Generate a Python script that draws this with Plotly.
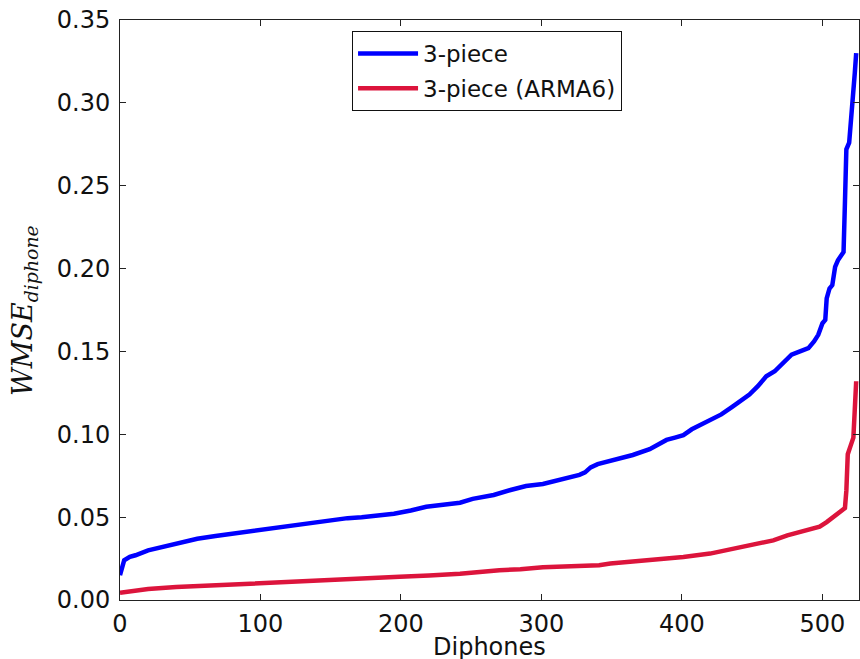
import plotly.graph_objects as go

# Blue series: "3-piece"
blue_x = [0, 1, 3, 7, 11, 20, 30, 44, 55, 68, 80, 91, 103, 115, 127, 139, 150, 162, 172,
          185, 195, 207, 218, 230, 242, 251, 258, 266, 278, 289, 301, 313, 320, 327, 331,
          335, 340, 349, 356, 365, 377, 389, 395, 401, 407, 413, 420, 428, 436, 442, 448,
          454, 460, 466, 472, 478, 484, 490, 494, 497, 500, 502, 503, 505, 507, 509, 511,
          513, 515, 516, 517, 519, 520, 521, 522, 523, 524]
blue_y = [0.015, 0.019, 0.024, 0.026, 0.027, 0.030, 0.032, 0.035, 0.037, 0.0386, 0.040,
          0.041, 0.0425, 0.0437, 0.045, 0.0464, 0.048, 0.0494, 0.0500, 0.051, 0.052, 0.054,
          0.0563, 0.0575, 0.0587, 0.061, 0.062, 0.0634, 0.0664, 0.0688, 0.0700, 0.0725,
          0.074, 0.0755, 0.077, 0.080, 0.082, 0.084, 0.085, 0.0875, 0.091, 0.0966, 0.098,
          0.0995, 0.103, 0.1056, 0.109, 0.112, 0.1167, 0.120, 0.124, 0.129, 0.135, 0.138,
          0.143, 0.148, 0.150, 0.152, 0.156, 0.160, 0.167, 0.169, 0.182, 0.188, 0.190,
          0.201, 0.205, 0.207, 0.210, 0.240, 0.272, 0.276, 0.285, 0.296, 0.305, 0.318, 0.330]

# Red series: "3-piece (ARMA6)"
red_x = [0, 5, 20, 40, 68, 100, 115, 140, 172, 199, 220, 242, 270, 285, 301, 325, 341,
         349, 370, 389, 401, 420, 436, 445, 455, 465, 475, 484, 498, 503, 508, 512, 516,
         517, 518, 520, 521, 522, 523, 524]
red_y = [0.0044, 0.005, 0.0066, 0.0078, 0.009, 0.010, 0.011, 0.012, 0.0128, 0.014, 0.0148,
         0.0158, 0.018, 0.0185, 0.0198, 0.0205, 0.021, 0.022, 0.0235, 0.0255, 0.026, 0.028,
         0.031, 0.032, 0.034, 0.036, 0.039, 0.041, 0.0442, 0.047, 0.050, 0.053, 0.0555,
         0.066, 0.088, 0.093, 0.096, 0.098, 0.115, 0.132]

series_names = ["3-piece", "3-piece (ARMA6)"]

x_ticks = [0, 100, 200, 300, 400, 500]
y_ticks = [0.00, 0.05, 0.10, 0.15, 0.20, 0.25, 0.30, 0.35]

fig = go.Figure()
fig.add_trace(go.Scatter(x=blue_x, y=blue_y, mode="lines", name=series_names[0],
                         legendgroup="a",
                         line=dict(color="#0000ff", width=4.5)))
fig.add_trace(go.Scatter(x=red_x, y=red_y, mode="lines", name=series_names[1],
                         legendgroup="b",
                         line=dict(color="#dc143c", width=4.5)))

axis_common = dict(showline=True, linecolor="#222222", linewidth=1, mirror="ticks",
                   ticks="inside", ticklen=6, tickcolor="#222222", showgrid=False,
                   zeroline=False, automargin=False,
                   tickfont=dict(family="DejaVu Sans", size=24, color="#111111"))

fig.update_layout(
    width=860, height=659,
    margin=dict(l=120, r=1, t=20, b=59),
    paper_bgcolor="white", plot_bgcolor="white",
    xaxis=dict(range=[0, 526], tickvals=x_ticks, ticklabelstandoff=2, **axis_common),
    yaxis=dict(range=[0, 0.35], tickvals=y_ticks, tickformat=".2f", ticklabelstandoff=4,
               **axis_common),
    legend=dict(x=0.314, y=0.981, xanchor="left", yanchor="top",
                bgcolor="white", bordercolor="#111111", borderwidth=1,
                font=dict(family="DejaVu Sans", size=23, color="#111111"),
                itemwidth=60,
                traceorder="grouped", tracegroupgap=2),
    showlegend=True,
    annotations=[
        dict(text="<i>WMSE</i><sub><i>diphone</i></sub>", textangle=-90,
             xref="paper", yref="paper", x=-0.13, y=0.5,
             xanchor="center", yanchor="middle", showarrow=False,
             font=dict(family="DejaVu Serif", size=27, color="#111111")),
        dict(text="Diphones", xref="paper", yref="paper", x=0.5, y=-0.0805,
             xanchor="center", yanchor="middle", showarrow=False,
             font=dict(family="DejaVu Sans", size=24, color="#111111")),
    ],
)

fig.write_html("out.html")
